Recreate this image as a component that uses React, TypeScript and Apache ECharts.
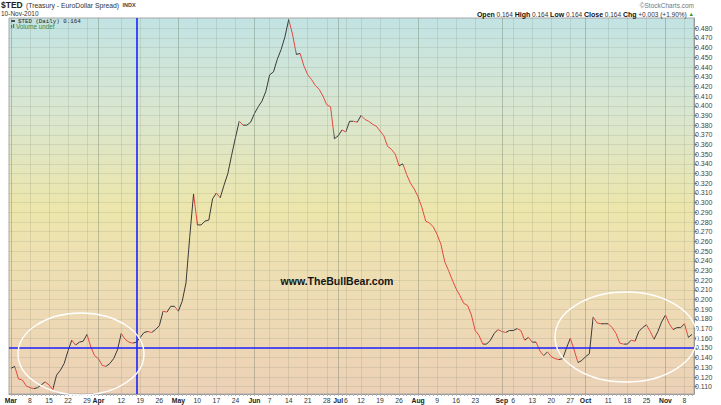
import React, { useEffect, useRef } from "react";
import * as echarts from "echarts";

// ---------- data ----------
const marketHolidays = ["2010-04-02", "2010-05-31", "2010-07-05"];

function buildTradingDays(): string[] {
  const out: string[] = [];
  const d = new Date(Date.UTC(2010, 2, 1));
  const end = Date.UTC(2010, 10, 10);
  while (d.getTime() <= end) {
    const wd = d.getUTCDay();
    const s = d.toISOString().slice(0, 10);
    if (wd !== 0 && wd !== 6 && !marketHolidays.includes(s)) out.push(s);
    d.setUTCDate(d.getUTCDate() + 1);
  }
  return out;
}
const tradingDays = buildTradingDays();

const tedValues = [
  0.129, 0.131, 0.118, 0.117, 0.111, 0.109, 0.108, 0.109, 0.112, 0.115,
  0.112, 0.107, 0.122, 0.127, 0.134, 0.147, 0.158, 0.153, 0.156, 0.157,
  0.164, 0.151, 0.142, 0.139, 0.132, 0.131, 0.134, 0.139, 0.148, 0.165,
  0.159, 0.156, 0.155, 0.156, 0.161, 0.166, 0.167, 0.166, 0.169, 0.173,
  0.188, 0.187, 0.193, 0.193, 0.188, 0.198, 0.217, 0.265, 0.309, 0.277,
  0.277, 0.281, 0.282, 0.304, 0.310, 0.305, 0.318, 0.330, 0.349, 0.367,
  0.384, 0.380, 0.380, 0.383, 0.392, 0.399, 0.405, 0.415, 0.432, 0.435,
  0.448, 0.458, 0.471, 0.489, 0.474, 0.453, 0.454, 0.441, 0.432, 0.427,
  0.421, 0.417, 0.410, 0.401, 0.399, 0.366, 0.369, 0.375, 0.373, 0.384,
  0.384, 0.383, 0.390, 0.386, 0.384, 0.381, 0.379, 0.374, 0.369, 0.358,
  0.355, 0.350, 0.338, 0.340, 0.329, 0.320, 0.314, 0.306, 0.295, 0.281,
  0.279, 0.275, 0.267, 0.257, 0.239, 0.230, 0.220, 0.211, 0.204, 0.196,
  0.194, 0.184, 0.168, 0.163, 0.154, 0.154, 0.158, 0.165, 0.169, 0.167,
  0.166, 0.168, 0.168, 0.170, 0.168, 0.158, 0.161, 0.156, 0.156, 0.147,
  0.142, 0.146, 0.141, 0.139, 0.138, 0.139, 0.150, 0.160, 0.148, 0.135,
  0.137, 0.141, 0.144, 0.182, 0.176, 0.175, 0.175, 0.175, 0.171, 0.165,
  0.155, 0.154, 0.154, 0.158, 0.157, 0.167, 0.171, 0.174, 0.167, 0.159,
  0.167, 0.177, 0.184, 0.175, 0.169, 0.171, 0.171, 0.175, 0.161, 0.164,
];

const tickDates = [
  "2010-03-01", "2010-03-08", "2010-03-15", "2010-03-22", "2010-03-29",
  "2010-04-01", "2010-04-12", "2010-04-19", "2010-04-26",
  "2010-05-03", "2010-05-10", "2010-05-17", "2010-05-24",
  "2010-06-01", "2010-06-07", "2010-06-14", "2010-06-21", "2010-06-28",
  "2010-07-01", "2010-07-06", "2010-07-12", "2010-07-19", "2010-07-26",
  "2010-08-02", "2010-08-09", "2010-08-16", "2010-08-23",
  "2010-09-01", "2010-09-06", "2010-09-13", "2010-09-20", "2010-09-27",
  "2010-10-01", "2010-10-11", "2010-10-18", "2010-10-25",
  "2010-11-01", "2010-11-08",
];
const tickTexts = [
  "Mar", "8", "15", "22", "29",
  "Apr", "12", "19", "26",
  "May", "10", "17", "24",
  "Jun", "7", "14", "21", "28",
  "Jul", "6", "12", "19", "26",
  "Aug", "9", "16", "23",
  "Sep", "6", "13", "20", "27",
  "Oct", "11", "18", "25",
  "Nov", "8",
];

const yTicks = [
  0.11, 0.12, 0.13, 0.14, 0.15, 0.16, 0.17, 0.18, 0.19, 0.2,
  0.21, 0.22, 0.23, 0.24, 0.25, 0.26, 0.27, 0.28, 0.29, 0.3,
  0.31, 0.32, 0.33, 0.34, 0.35, 0.36, 0.37, 0.38, 0.39, 0.4,
  0.41, 0.42, 0.43, 0.44, 0.45, 0.46, 0.47, 0.48,
];

const blueLineDate = "2010-04-16";
const blueLineValue = 0.154;

const FONT = "Liberation Sans, Arial, sans-serif";
const RED = "#e4483e";
const DARK = "#3a3a3a";

export default function App() {
  const ref = useRef<HTMLDivElement>(null);

  useEffect(() => {
    document.body.style.margin = "0";
    if (!ref.current) return;
    const chart = echarts.init(ref.current, null, { renderer: "svg" });

    const labelMap: Record<string, string> = {};
    tickDates.forEach((d, i) => (labelMap[d] = tickTexts[i]));

    // direction pieces: red when falling, dark when rising
    const pieces: any[] = [];
    const n = tedValues.length;
    const isDown = (k: number) => tedValues[k] < tedValues[k - 1];
    let runStart = 1;
    for (let i = 2; i <= n; i++) {
      if (i === n || isDown(i) !== isDown(runStart)) {
        const p: any = { lte: i - 1, color: isDown(runStart) ? RED : DARK };
        if (runStart === 1) p.gte = 0;
        else p.gt = runStart - 1;
        pieces.push(p);
        runStart = i;
      }
    }

    const gridLines = tickDates.map((d, i) => {
      const isMonth = isNaN(Number(tickTexts[i]));
      return {
        xAxis: d,
        lineStyle: {
          color: isMonth ? "rgba(95,110,90,0.34)" : "rgba(110,120,100,0.17)",
          width: 1,
          type: "solid",
        },
      };
    });

    chart.setOption({
      animation: false,
      grid: {
        left: 9,
        right: 27,
        top: 18,
        bottom: 11,
        show: true,
        borderColor: "#a8a8a8",
        borderWidth: 1,
        backgroundColor: new echarts.graphic.LinearGradient(0, 0, 0, 1, [
          { offset: 0, color: "#c2e3e3" },
          { offset: 0.25, color: "#d9e6d0" },
          { offset: 0.5, color: "#ece6ac" },
          { offset: 0.72, color: "#eeddb4" },
          { offset: 1, color: "#ecd1b6" },
        ]),
      },
      xAxis: {
        type: "category",
        data: tradingDays,
        boundaryGap: true,
        axisLine: { show: true, lineStyle: { color: "#999", width: 1 } },
        axisTick: {
          show: true,
          alignWithLabel: true,
          interval: 0,
          length: 2,
          lineStyle: { color: "#b0b0b0" },
        },
        splitLine: { show: false },
        axisLabel: {
          interval: (_i: number, v: string) => v in labelMap,
          hideOverlap: false,
          margin: 3,
          fontSize: 7,
          fontFamily: FONT,
          color: "#333",
          formatter: (v: string) => {
            const t = labelMap[v] ?? "";
            return isNaN(Number(t)) ? `{m|${t}}` : `{d|${t}}`;
          },
          rich: {
            m: { fontSize: 6.8, fontWeight: "bold", fontFamily: FONT, color: "#222" },
            d: { fontSize: 6.8, fontFamily: FONT, color: "#333" },
          },
        },
      },
      yAxis: {
        type: "value",
        position: "right",
        min: 0.1025,
        max: 0.4906,
        scale: true,
        axisLine: { show: true, lineStyle: { color: "#999" } },
        axisTick: {
          show: true,
          length: 3,
          customValues: yTicks,
          lineStyle: { color: "#888" },
        },
        axisLabel: {
          customValues: yTicks,
          margin: 1,
          fontSize: 7,
          fontFamily: FONT,
          color: "#444",
          formatter: (v: number) => v.toFixed(3),
        },
        splitLine: {
          show: true,
          lineStyle: { color: "rgba(110,120,100,0.15)", width: 1 },
        },
      },
      visualMap: {
        type: "piecewise",
        show: false,
        dimension: 0,
        seriesIndex: 1,
        pieces,
        outOfRange: { color: DARK },
      },
      series: [
        {
          type: "line",
          data: tedValues,
          showSymbol: false,
          silent: true,
          lineStyle: { opacity: 0 },
          markLine: {
            silent: true,
            symbol: ["none", "none"],
            label: { show: false },
            data: gridLines,
          },
        },
        {
          type: "line",
          data: tedValues,
          showSymbol: false,
          lineStyle: { width: 1 },
          markLine: {
            silent: true,
            symbol: ["none", "none"],
            label: { show: false },
            data: [
              { xAxis: blueLineDate, lineStyle: { color: "#1c22ff", width: 1.6, type: "solid" } },
              { yAxis: blueLineValue, lineStyle: { color: "#1c22ff", width: 1.6, type: "solid" } },
            ],
          },
        },
      ],
      graphic: [
        {
          type: "text",
          x: 1,
          y: 5,
          style: {
            text: "{b|$TED} {n|(Treasury - EuroDollar Spread)} {s|INDX}",
            textVerticalAlign: "middle",
            rich: {
              b: { fontSize: 8.5, fontWeight: "bold", fontFamily: FONT, fill: "#222" },
              n: { fontSize: 6.8, fontFamily: FONT, fill: "#333" },
              s: { fontSize: 5.5, fontWeight: "bold", fontFamily: FONT, fill: "#444" },
            },
          },
        },
        {
          type: "text",
          x: 1,
          y: 13,
          style: {
            text: "10-Nov-2010",
            textVerticalAlign: "middle",
            font: `6.5px ${FONT}`,
            fill: "#333",
          },
        },
        {
          type: "text",
          x: 694,
          y: 5,
          style: {
            text: "©StockCharts.com",
            textAlign: "right",
            textVerticalAlign: "middle",
            font: `6.5px ${FONT}`,
            fill: "#777",
          },
        },
        {
          type: "text",
          x: 694,
          y: 14,
          style: {
            text:
              "{b|Open} 0.164 {b|High} 0.164 {b|Low} 0.164 {b|Close} 0.164 {b|Chg} +0.003 (+1.90%) {g|▲}",
            textAlign: "right",
            textVerticalAlign: "middle",
            font: `6.5px ${FONT}`,
            fill: "#333",
            rich: {
              b: { fontSize: 7, fontWeight: "bold", fontFamily: FONT, fill: "#111" },
              g: { fontSize: 5.5, fontFamily: FONT, fill: "#2e9a2e" },
            },
          },
        },
        {
          type: "line",
          shape: { x1: 11, y1: 21, x2: 15, y2: 21 },
          style: { stroke: "#222", lineWidth: 1.5 },
        },
        {
          type: "text",
          x: 18,
          y: 21,
          style: {
            text: "$TED (Daily) 0.164",
            textVerticalAlign: "middle",
            font: `5.8px Liberation Mono, DejaVu Sans Mono, monospace`,
            fill: "#222",
          },
        },
        {
          type: "rect",
          shape: { x: 11, y: 25, width: 1.2, height: 3 },
          style: { fill: "#3c8c3c" },
        },
        {
          type: "rect",
          shape: { x: 13, y: 24, width: 1.2, height: 4 },
          style: { fill: "#3c8c3c" },
        },
        {
          type: "text",
          x: 16,
          y: 26.5,
          style: {
            text: "Volume undef",
            textVerticalAlign: "middle",
            font: `6.3px ${FONT}`,
            fill: "#3c8c3c",
          },
        },
        {
          type: "text",
          x: 337,
          y: 281,
          style: {
            text: "www.TheBullBear.com",
            textAlign: "center",
            textVerticalAlign: "middle",
            font: `bold 10.5px ${FONT}`,
            fill: "#111",
          },
        },
        {
          type: "ellipse",
          shape: { cx: 81, cy: 354, rx: 63, ry: 41 },
          style: { fill: "none", stroke: "#ffffff", lineWidth: 1.4 },
          z: 100,
        },
        {
          type: "ellipse",
          shape: { cx: 626, cy: 337, rx: 71, ry: 45 },
          style: { fill: "none", stroke: "#ffffff", lineWidth: 1.4 },
          z: 100,
        },
      ],
    });

    return () => chart.dispose();
  }, []);

  return <div ref={ref} style={{ width: 721, height: 405 }} />;
}
